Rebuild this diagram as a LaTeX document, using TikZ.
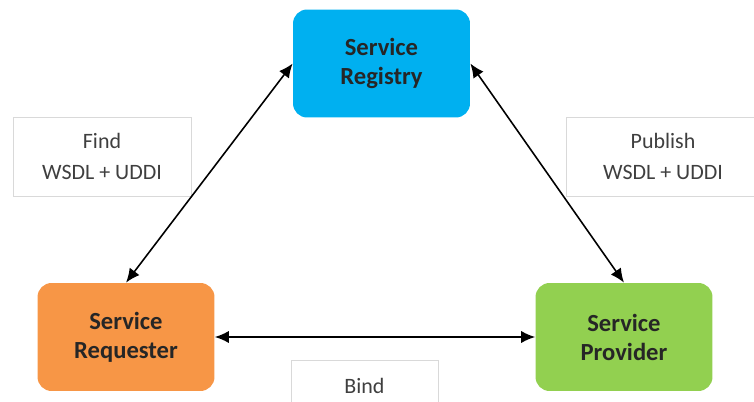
\documentclass[tikz,border=0pt]{standalone}
\usepackage{fontspec}
\setmainfont{Carlito}
\usepackage{xcolor}
\usetikzlibrary{arrows.meta}

\definecolor{regblue}{HTML}{00B0F0}
\definecolor{reqorange}{HTML}{F79646}
\definecolor{provgreen}{HTML}{92D050}
\definecolor{rotulo}{HTML}{3F3F3F}
\definecolor{moldura}{HTML}{D9D9D9}

\begin{document}
\begin{tikzpicture}[
  x=0.02cm, y=-0.02cm,
  >={Latex[length=8pt,width=7pt]},
  papel/.style={rounded corners=8pt, align=center, text=black!85,
                minimum width=3.54cm, minimum height=2.16cm,
                font=\fontsize{14}{16.5}\selectfont\bfseries},
  rotulo/.style={draw=moldura, line width=0.5pt, align=center, text=rotulo,
                 minimum height=1.58cm,
                 font=\fontsize{12.5}{17.5}\selectfont},
  seta/.style={<->, line width=0.9pt}
]
\useasboundingbox (0,0) rectangle (754,402);

% ---------- Papeis (registry, requester, provider) ----------
\node[papel, fill=regblue]    (reg)  at (381.5,63.5) {Service\\ Registry};
\node[papel, fill=reqorange]  (req)  at (126,337)    {Service\\ Requester};
\node[papel, fill=provgreen]  (prov) at (624,337)    {Service\\ Provider};

% ---------- Rotulos das operacoes ----------
\node[rotulo, minimum width=3.56cm] (find) at (102,156.5) {Find\\ WSDL + UDDI};
\node[rotulo, minimum width=3.88cm] (pub)  at (663,156.5) {Publish\\ WSDL + UDDI};
\node[rotulo, minimum width=2.94cm, minimum height=1.04cm] (bind) at (364.5,386) {Bind};

% ---------- Setas ----------
\draw[seta] (req.north) -- (reg.west);
\draw[seta] (reg.east) -- (prov.north);
\draw[seta] (req.east) -- (prov.west);

\end{tikzpicture}
\end{document}
